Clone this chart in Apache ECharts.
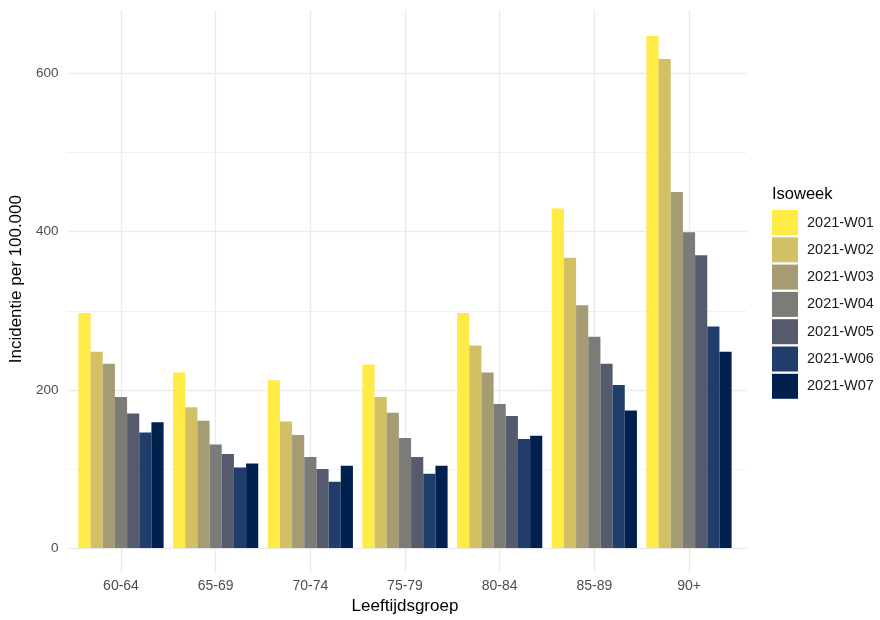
<!DOCTYPE html>
<html>
<head>
<meta charset="utf-8">
<script src="https://cdn.jsdelivr.net/npm/echarts@6/dist/echarts.min.js"></script>
<style>html,body{margin:0;padding:0;background:#fff}#c{width:880px;height:620px}</style>
</head>
<body>
<div id="c"></div>
<script>
const categories = ['60-64', '65-69', '70-74', '75-79', '80-84', '85-89', '90+'];
const weeks = ['2021-W01', '2021-W02', '2021-W03', '2021-W04', '2021-W05', '2021-W06', '2021-W07'];
const w01 = [297, 222, 212, 232, 297, 429, 647];
const w02 = [248, 178, 160, 191, 256, 367, 618];
const w03 = [233, 161, 143, 171, 222, 307, 450];
const w04 = [191, 131, 115, 139, 182, 267, 399];
const w05 = [170, 119, 100, 115, 167, 233, 370];
const w06 = [146, 102, 84, 94, 138, 206, 280];
const w07 = [159, 107, 104, 104, 142, 174, 248];
const yTicks = [0, 200, 400, 600];
const colors = ['#FFEA46', '#D3C064', '#A59C74', '#7B7B78', '#555B6C', '#213D6B', '#00204D'];

const seriesValues = [w01, w02, w03, w04, w05, w06, w07];
const FONT = '"Liberation Sans", Arial, sans-serif';
const MAJ = '#ebebeb', MIN = '#f3f3f3', T = 'rgba(0,0,0,0)';
const yMax = 680;

const chart = echarts.init(document.getElementById('c'));
chart.setOption({
  animation: false,
  backgroundColor: '#ffffff',
  textStyle: { fontFamily: FONT },
  title: {
    text: 'Isoweek', left: 772, top: 186, padding: 0,
    textStyle: { fontFamily: FONT, fontSize: 16.5, fontWeight: 'normal', color: '#000' }
  },
  legend: {
    orient: 'vertical', left: 772, top: 210, padding: 0,
    icon: 'rect', itemWidth: 26, itemHeight: 25, itemGap: 2.3,
    data: weeks,
    textStyle: { fontFamily: FONT, fontSize: 14.5, color: '#1a1a1a', padding: [0, 0, 0, 4] }
  },
  grid: [
    { left: 63, right: 133, top: 10, bottom: 71.7 },
    { left: 121, right: 191, top: 10, bottom: 71.7 }
  ],
  xAxis: [
    { type: 'category', gridIndex: 0, data: categories, show: false },
    {
      type: 'category', gridIndex: 1, data: categories, boundaryGap: false,
      name: 'Leeftijdsgroep', nameLocation: 'middle', nameGap: 47,
      nameTextStyle: { fontFamily: FONT, fontSize: 17, color: '#000' },
      axisLine: { show: false },
      axisTick: { show: true, length: 25, lineStyle: { color: MAJ, width: 1.4 } },
      axisLabel: { margin: 31, fontFamily: FONT, fontSize: 14, color: '#4d4d4d' },
      splitLine: { show: true, lineStyle: { color: MAJ, width: 1.4 } }
    }
  ],
  yAxis: [
    {
      type: 'value', gridIndex: 0, min: 0, max: yMax, interval: 200,
      name: 'Incidentie per 100.000', nameLocation: 'middle', nameGap: 34,
      nameTextStyle: { fontFamily: FONT, fontSize: 17, color: '#000' },
      axisLine: { show: false }, axisTick: { show: false },
      axisLabel: {
        margin: 9, fontFamily: FONT, fontSize: 13.5, color: '#4d4d4d',
        formatter: v => (yTicks.indexOf(v) >= 0 ? String(v) : '')
      },
      splitLine: { show: true, lineStyle: { color: [MAJ, MAJ, MAJ, MAJ, T], width: 1.4 } }
    },
    {
      type: 'value', gridIndex: 0, min: 0, max: yMax, interval: 100,
      axisLine: { show: false }, axisTick: { show: false }, axisLabel: { show: false },
      splitLine: { show: true, lineStyle: { color: [T, MIN, T, MIN, T, MIN, T, T], width: 1 } }
    },
    {
      type: 'value', gridIndex: 1, min: 0, max: yMax, interval: 200,
      show: false, splitLine: { show: false }
    }
  ],
  series: weeks.map((w, i) => ({
    name: w, type: 'bar', xAxisIndex: 1, yAxisIndex: 2,
    data: seriesValues[i], barGap: '0%', barCategoryGap: '10%',
    clip: false, itemStyle: { color: colors[i] }
  }))
});
</script>
</body>
</html>
